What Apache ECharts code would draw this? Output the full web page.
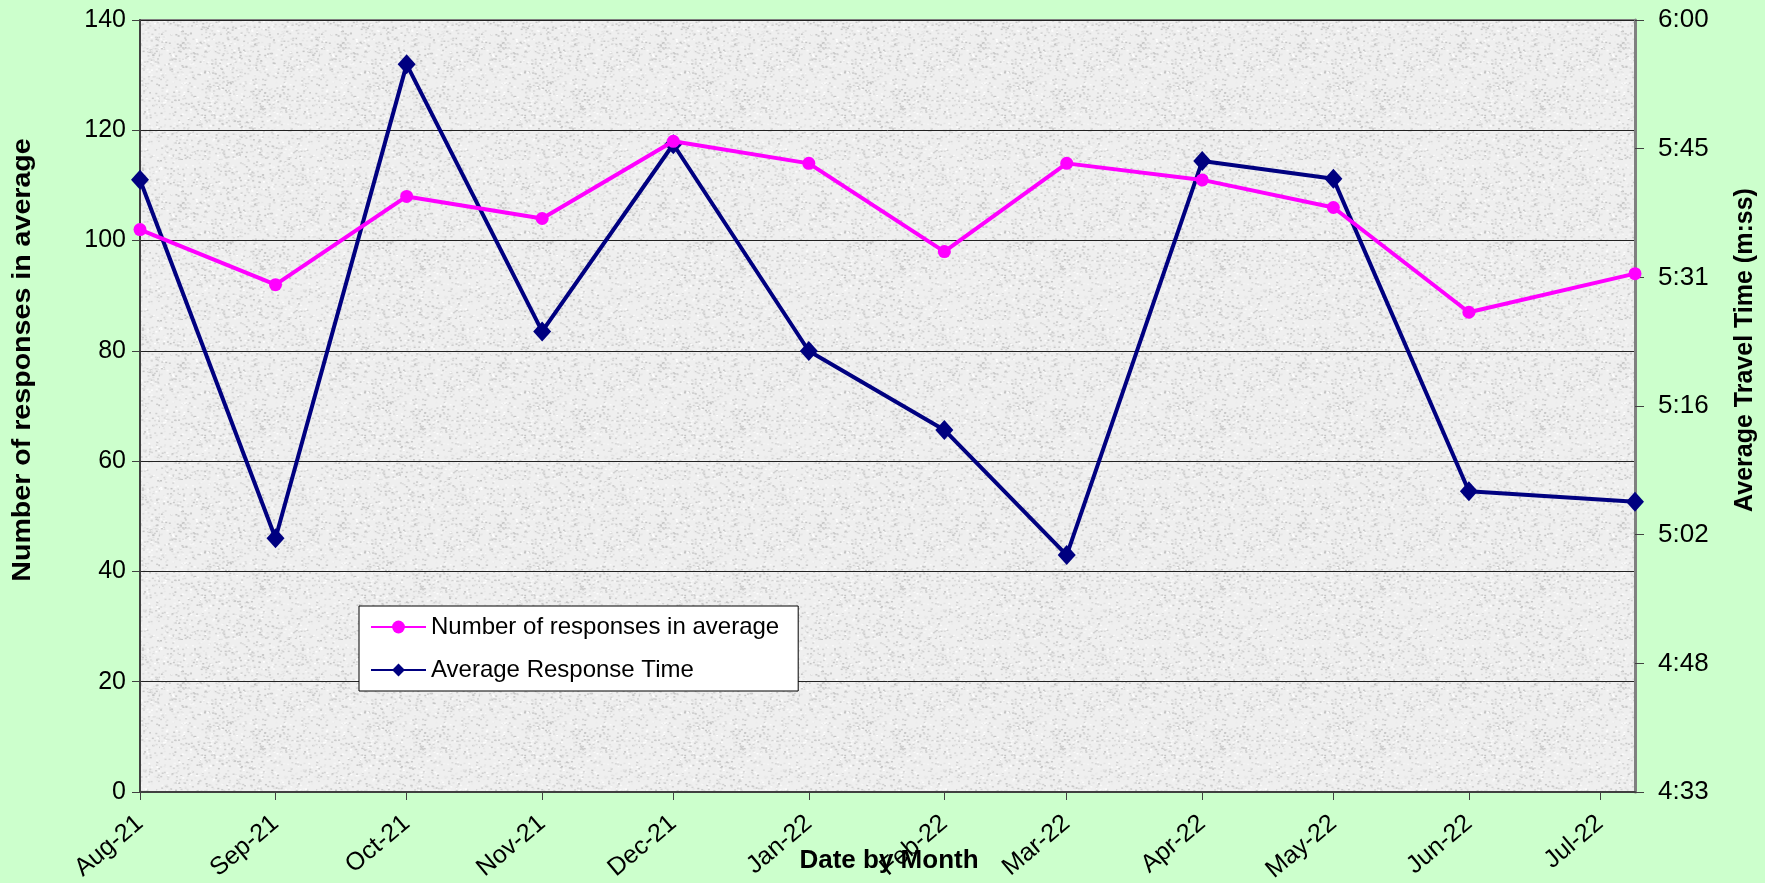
<!DOCTYPE html>
<html style="height: 100%">
<head>
    <meta charset="utf-8">
    <script src="https://cdn.jsdelivr.net/npm/echarts@6/dist/echarts.min.js"></script>
    <title>Responses and Average Response Time</title>
</head>
<body style="height: 100%; margin: 0; background: #ccffcc">
<div id="container" style="width: 1765px; height: 883px"></div>
<script type="text/javascript">
    // month of each reading (the last one sits on the right edge of the plot)
    let months = ['2021-08-01', '2021-09-01', '2021-10-01', '2021-11-01', '2021-12-01', '2022-01-01',
                  '2022-02-01', '2022-03-01', '2022-04-01', '2022-05-01', '2022-06-01', '2022-07-09']
    let responses = [102, 92, 108, 104, 118, 114, 98, 114, 111, 106, 87, 94]
    // average response time in seconds
    let responseTime = [342, 301.6, 355, 324.9, 346, 322.7, 313.8, 299.7, 344.1, 342.1, 306.9, 305.7]
    let rightTickLabels = ['4:33', '4:48', '5:02', '5:16', '5:31', '5:45', '6:00']
    let rightMin = 273, rightMax = 360, rightStep = 14.5

    let font = 'Liberation Sans, Arial, sans-serif'

    // grey speckled plot background
    function granite() {
        let c = document.createElement('canvas')
        c.width = 160; c.height = 160
        let ctx = c.getContext('2d')
        ctx.fillStyle = '#efefef'
        ctx.fillRect(0, 0, 160, 160)
        for (let i = 0; i < 2600; i++) {
            let h = Math.sin(i * 12.9898) * 43758.5453; h -= Math.floor(h)
            let k = Math.sin(i * 78.233) * 12345.678; k -= Math.floor(k)
            let g = Math.sin(i * 39.425) * 24634.634; g -= Math.floor(g)
            let v = Math.round(195 + g * 60)
            ctx.fillStyle = 'rgb(' + v + ',' + v + ',' + v + ')'
            ctx.fillRect(h * 160, k * 160, 2, 1.5)
        }
        return c
    }

    let dom = document.getElementById("container")
    let chart = echarts.init(dom)
    chart.setOption({
        animation: false,
        backgroundColor: '#ccffcc',
        textStyle: {fontFamily: font},
        grid: {
            left: 140, right: 130, top: 20, bottom: 91,
            outerBoundsMode: 'none', containLabel: false,
            show: true,
            backgroundColor: {image: granite(), repeat: 'repeat'},
            borderColor: '#808080', borderWidth: 2
        },
        legend: {
            orient: 'vertical',
            left: 359, top: 606,
            backgroundColor: '#ffffff',
            borderColor: '#000000', borderWidth: 1, borderRadius: 0,
            padding: [8, 19, 8, 11],
            itemWidth: 55, itemHeight: 16, itemGap: 17,
            data: ['Number of responses in average', 'Average Response Time'],
            textStyle: {fontSize: 24, color: '#000', lineHeight: 26, fontFamily: font}
        },
        xAxis: {
            type: 'time',
            min: months[0], max: months[months.length - 1],
            splitNumber: 12,
            minInterval: 28 * 86400000, maxInterval: 31 * 86400000,
            axisLine: {lineStyle: {color: '#404040', width: 2}},
            axisTick: {show: true, length: 8, lineStyle: {color: '#404040', width: 1}},
            splitLine: {show: false},
            axisLabel: {
                rotate: 40, fontSize: 25, color: '#000', margin: 28,
                hideOverlap: false, showMinLabel: true,
                formatter: '{MMM}-{yy}', fontFamily: font
            }
        },
        yAxis: [
            {
                type: 'value', min: 0, max: 140, interval: 20,
                axisLine: {show: true, lineStyle: {color: '#404040', width: 2}},
                axisTick: {show: true, length: 8, lineStyle: {color: '#404040'}},
                splitLine: {show: true, lineStyle: {color: '#222', width: 1}},
                axisLabel: {fontSize: 25, color: '#000', margin: 14, fontFamily: font}
            },
            {
                type: 'value', min: rightMin, max: rightMax, interval: rightStep,
                position: 'right',
                axisLine: {show: true, lineStyle: {color: '#808080', width: 3}},
                axisTick: {show: true, length: 9, lineStyle: {color: '#404040'}},
                splitLine: {show: false},
                axisLabel: {
                    fontSize: 26, color: '#000', margin: 23, fontFamily: font,
                    formatter: v => rightTickLabels[Math.round((v - rightMin) / rightStep)]
                }
            }
        ],
        graphic: [
            {
                type: 'text', x: 23, y: 360, rotation: Math.PI / 2, scaleX: 1.1,
                style: {text: 'Number of responses in average', font: 'bold 26px ' + font,
                        fill: '#000', align: 'center', verticalAlign: 'middle'}
            },
            {
                type: 'text', x: 1745, y: 350, rotation: Math.PI / 2,
                style: {text: 'Average Travel Time (m:ss)', font: 'bold 25px ' + font,
                        fill: '#000', align: 'center', verticalAlign: 'middle'}
            },
            {
                type: 'text', x: 889, y: 861, z: 100,
                style: {text: 'Date by Month', font: 'bold 26px ' + font,
                        fill: '#000', align: 'center', verticalAlign: 'middle'}
            }
        ],
        series: [
            {
                name: 'Average Response Time',
                type: 'line', yAxisIndex: 1, z: 2,
                data: months.map((m, i) => [m, responseTime[i]]),
                symbol: 'diamond', symbolSize: [18, 20], showAllSymbol: true,
                lineStyle: {color: '#000080', width: 4},
                itemStyle: {color: '#000080'}
            },
            {
                name: 'Number of responses in average',
                type: 'line', z: 3,
                data: months.map((m, i) => [m, responses[i]]),
                symbol: 'circle', symbolSize: 13, showAllSymbol: true,
                lineStyle: {color: '#ff00ff', width: 4},
                itemStyle: {color: '#ff00ff'}
            }
        ]
    }, true)
</script>
</body>
</html>
